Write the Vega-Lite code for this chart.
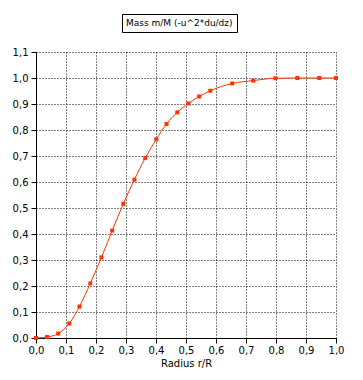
{
  "$schema": "https://vega.github.io/schema/vega-lite/v6.json",
  "width": 300,
  "height": 286,
  "autosize": {"type": "none"},
  "padding": {"left": 36, "top": 52, "right": 27, "bottom": 42},
  "background": "white",
  "config": {
    "view": {"stroke": null},
    "font": "DejaVu Sans",
    "axis": {
      "domainColor": "black",
      "domainWidth": 1,
      "tickColor": "black",
      "tickSize": 5,
      "tickWidth": 1,
      "gridColor": "black",
      "gridOpacity": 1,
      "gridDash": [1, 2],
      "gridWidth": 1,
      "labelColor": "black",
      "labelFont": "DejaVu Sans",
      "labelFontSize": 10,
      "titleFont": "DejaVu Sans",
      "titleFontSize": 10,
      "titleFontWeight": "normal",
      "titleColor": "black"
    }
  },
  "data": {
    "values": [
      {"r": 0.0, "m": 0.0, "s": "Mass m/M (-u^2*du/dz)"},
      {"r": 0.037, "m": 0.004, "s": "Mass m/M (-u^2*du/dz)"},
      {"r": 0.074, "m": 0.017, "s": "Mass m/M (-u^2*du/dz)"},
      {"r": 0.111, "m": 0.056, "s": "Mass m/M (-u^2*du/dz)"},
      {"r": 0.145, "m": 0.121, "s": "Mass m/M (-u^2*du/dz)"},
      {"r": 0.181, "m": 0.21, "s": "Mass m/M (-u^2*du/dz)"},
      {"r": 0.218, "m": 0.31, "s": "Mass m/M (-u^2*du/dz)"},
      {"r": 0.254, "m": 0.413, "s": "Mass m/M (-u^2*du/dz)"},
      {"r": 0.291, "m": 0.516, "s": "Mass m/M (-u^2*du/dz)"},
      {"r": 0.328, "m": 0.609, "s": "Mass m/M (-u^2*du/dz)"},
      {"r": 0.364, "m": 0.692, "s": "Mass m/M (-u^2*du/dz)"},
      {"r": 0.401, "m": 0.764, "s": "Mass m/M (-u^2*du/dz)"},
      {"r": 0.435, "m": 0.823, "s": "Mass m/M (-u^2*du/dz)"},
      {"r": 0.471, "m": 0.868, "s": "Mass m/M (-u^2*du/dz)"},
      {"r": 0.508, "m": 0.902, "s": "Mass m/M (-u^2*du/dz)"},
      {"r": 0.544, "m": 0.929, "s": "Mass m/M (-u^2*du/dz)"},
      {"r": 0.581, "m": 0.951, "s": "Mass m/M (-u^2*du/dz)"},
      {"r": 0.654, "m": 0.979, "s": "Mass m/M (-u^2*du/dz)"},
      {"r": 0.724, "m": 0.99, "s": "Mass m/M (-u^2*du/dz)"},
      {"r": 0.798, "m": 0.999, "s": "Mass m/M (-u^2*du/dz)"},
      {"r": 0.871, "m": 1.0, "s": "Mass m/M (-u^2*du/dz)"},
      {"r": 0.944, "m": 1.0, "s": "Mass m/M (-u^2*du/dz)"},
      {"r": 1.0, "m": 1.0, "s": "Mass m/M (-u^2*du/dz)"}
    ]
  },
  "encoding": {
    "x": {
      "field": "r",
      "type": "quantitative",
      "scale": {"domain": [0, 1], "nice": false, "zero": false},
      "axis": {
        "values": [0, 0.1, 0.2, 0.3, 0.4, 0.5, 0.6, 0.7, 0.8, 0.9, 1.0],
        "labelExpr": "replace(format(datum.value, '.1f'), '.', ',')",
        "title": "Radius r/R",
        "titlePadding": 3,
        "labelPadding": 2,
        "labelFlush": false
      }
    },
    "y": {
      "field": "m",
      "type": "quantitative",
      "scale": {"domain": [0, 1.1], "nice": false},
      "axis": {
        "values": [0, 0.1, 0.2, 0.3, 0.4, 0.5, 0.6, 0.7, 0.8, 0.9, 1.0, 1.1],
        "labelExpr": "replace(format(datum.value, '.1f'), '.', ',')",
        "title": null,
        "labelPadding": 3
      }
    },
    "color": {
      "field": "s",
      "type": "nominal",
      "scale": {"range": ["#ff3300"]},
      "legend": {
        "orient": "none",
        "legendX": 86,
        "legendY": -38,
        "title": null,
        "symbolSize": 0,
        "symbolStrokeWidth": 0,
        "symbolOpacity": 0,
        "labelOffset": -9,
        "labelFontSize": 9,
        "labelFont": "DejaVu Sans",
        "labelColor": "black",
        "strokeColor": "black",
        "padding": 4,
        "fillColor": "white"
      }
    }
  },
  "layer": [
    {"mark": {"type": "line", "interpolate": "monotone", "strokeWidth": 1}},
    {"mark": {"type": "square", "size": 16, "opacity": 1, "filled": true}}
  ]
}
